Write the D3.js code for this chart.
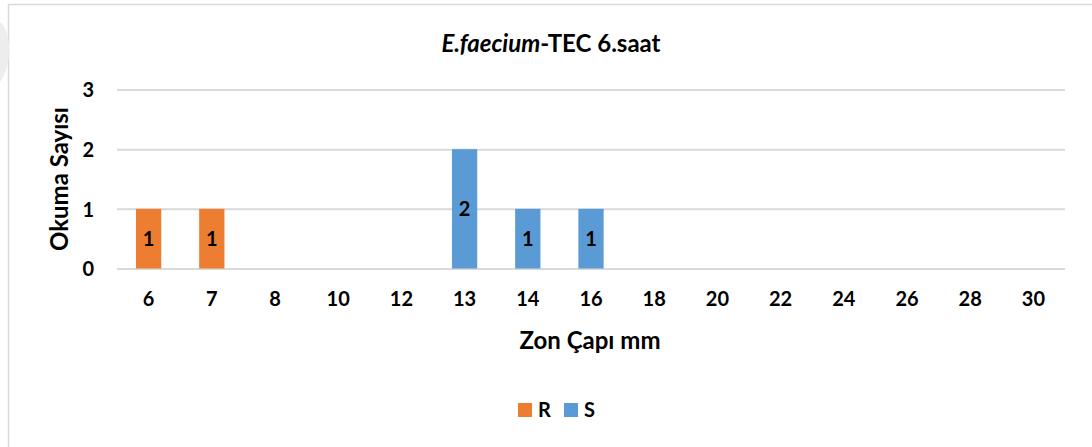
<!DOCTYPE html>
<html>
<head>
<meta charset="utf-8">
<script src="https://cdn.jsdelivr.net/npm/d3@7"></script>
<style>
  html, body { margin: 0; padding: 0; background: #ffffff; }
  svg { display: block; }
  text { font-family: Lato, "Open Sans", sans-serif; font-weight: 700; fill: #000; }
</style>
</head>
<body>
<svg id="chart" width="1092" height="447"></svg>
<script>
// Zone diameter categories (mm)
const categories = ["6", "7", "8", "10", "12", "13", "14", "16", "18", "20", "22", "24", "26", "28", "30"];
// Reading counts per category; null = no reading
const seriesR = [1, 1, null, null, null, null, null, null, null, null, null, null, null, null, null];
const seriesS = [null, null, null, null, null, 2, 1, 1, null, null, null, null, null, null, null];
const yTicks = [0, 1, 2, 3];
const seriesNames = ["R", "S"];
const seriesColors = ["#ED7D31", "#5B9BD5"];

const svg = d3.select("#chart");
const W = 1092, H = 447;
const plot = { left: 117, right: 1065, top: 89.5, bottom: 268.5 };

// Chart frame
svg.append("rect")
  .attr("x", 8.5).attr("y", 4.5)
  .attr("width", W + 10).attr("height", H + 10)
  .attr("fill", "#fff").attr("stroke", "#D9D9D9").attr("stroke-width", 1.5);

// faint mark at the left edge
svg.append("path")
  .attr("d", "M0,22 Q9,30 9,50 Q9,70 0,82 Z")
  .attr("fill", "#EDEDED");

const x = d3.scaleBand()
  .domain(categories)
  .range([plot.left, plot.right])
  .paddingInner(0.6)
  .paddingOuter(0.3);

const y = d3.scaleLinear()
  .domain([0, 3])
  .range([plot.bottom, plot.top]);

// Horizontal gridlines
const yAxis = d3.axisLeft(y)
  .tickValues(yTicks)
  .tickSize(-(plot.right - plot.left))
  .tickPadding(23)
  .tickFormat(d3.format("d"));

const gy = svg.append("g")
  .attr("transform", `translate(${plot.left},0)`)
  .call(yAxis);
gy.select(".domain").remove();
gy.selectAll(".tick line").attr("stroke", "#D9D9D9").attr("stroke-width", 2);
gy.selectAll(".tick text").attr("font-size", 20).attr("dy", "0.36em");

// Category axis
const xAxis = d3.axisBottom(x).tickSize(0).tickPadding(23);
const gx = svg.append("g")
  .attr("transform", `translate(0,${plot.bottom})`)
  .call(xAxis);
gx.select(".domain").remove();
gx.selectAll(".tick text").attr("font-size", 20);

// Stacked bars
const rows = categories.map((c, i) => ({ cat: c, R: seriesR[i] || 0, S: seriesS[i] || 0 }));
const stack = d3.stack().keys(seriesNames)(rows);

stack.forEach((layer, li) => {
  const g = svg.append("g");
  layer.forEach((d) => {
    const v = d[1] - d[0];
    if (!v) return;
    g.append("rect")
      .attr("x", x(d.data.cat))
      .attr("y", y(d[1]))
      .attr("width", x.bandwidth())
      .attr("height", y(d[0]) - y(d[1]))
      .attr("fill", seriesColors[li]);
    g.append("text")
      .attr("x", x(d.data.cat) + x.bandwidth() / 2)
      .attr("y", (y(d[0]) + y(d[1])) / 2)
      .attr("dy", "0.36em")
      .attr("text-anchor", "middle")
      .attr("font-size", 20)
      .text(v);
  });
});

// Title
const title = svg.append("text")
  .attr("x", 551).attr("y", 43)
  .attr("dy", "0.36em")
  .attr("text-anchor", "middle")
  .attr("font-size", 24);
title.append("tspan").attr("font-style", "italic").text("E.faecium");
title.append("tspan").text("-TEC 6.saat");

// Axis titles
svg.append("text")
  .attr("transform", `translate(59,${(plot.top + plot.bottom) / 2}) rotate(-90)`)
  .attr("dy", "0.36em")
  .attr("text-anchor", "middle")
  .attr("font-size", 24)
  .text("Okuma Sayısı");

svg.append("text")
  .attr("x", 590).attr("y", 340)
  .attr("dy", "0.36em")
  .attr("text-anchor", "middle")
  .attr("font-size", 24)
  .text("Zon Çapı mm");

// Legend
const legend = svg.append("g");
const legendX = [518, 564];
seriesNames.forEach((name, i) => {
  legend.append("rect")
    .attr("x", legendX[i]).attr("y", 403)
    .attr("width", 14).attr("height", 14)
    .attr("fill", seriesColors[i]);
  legend.append("text")
    .attr("x", legendX[i] + 20).attr("y", 410)
    .attr("dy", "0.36em")
    .attr("font-size", 20)
    .text(name);
});
</script>
</body>
</html>
